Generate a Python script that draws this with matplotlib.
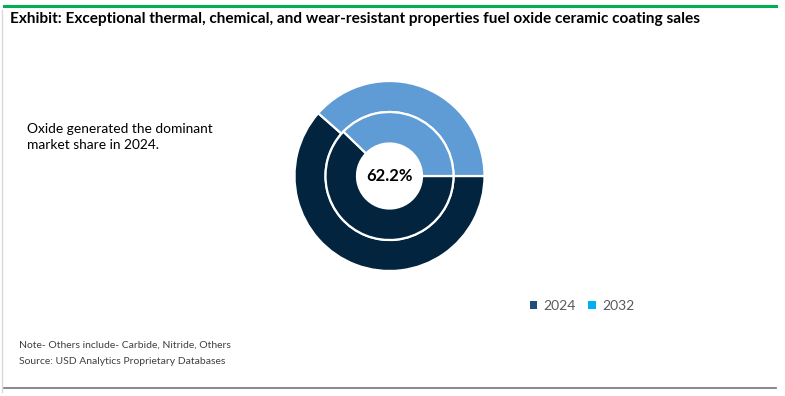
import matplotlib
matplotlib.use("Agg")
import matplotlib.pyplot as plt
from matplotlib.patches import Patch
from matplotlib.lines import Line2D

# Data
segments = ["Oxide", "Others"]
share_2024 = [62.2, 37.8]
share_2032 = [61.5, 38.5]
years = ["2024", "2032"]

title = "Exhibit: Exceptional thermal, chemical, and wear-resistant properties fuel oxide ceramic coating sales"
insight = "Oxide generated the dominant\nmarket share in 2024."
center_label = "62.2%"
notes = ["Note- Others include- Carbide, Nitride, Others",
         "Source: USD Analytics Proprietary Databases"]

seg_colors = ["#03243F", "#5F9BD5"]
legend_colors = ["#1F4E79", "#00B0F0"]

W, H = 785, 396
fig = plt.figure(figsize=(W / 100, H / 100), dpi=100)
fig.patch.set_facecolor("white")

def fx(px):
    return px / W

def fy(py):
    return 1 - py / H

# Frame lines
fig.add_artist(Line2D([fx(4), fx(776)], [fy(6), fy(6)], color="#00B050", lw=2.2))
fig.add_artist(Line2D([fx(4), fx(776)], [fy(388), fy(388)], color="#808080", lw=1.3))
fig.add_artist(Line2D([fx(1.5), fx(1.5)], [fy(10), fy(392)], color="#D9D9D9", lw=1.0))

# Title
fig.text(fx(10), fy(19), title, fontsize=11.1, fontweight="bold", family="Lato",
         color="black", va="center", ha="left")

# Donut
cx, cy, R = 389.5, 176, 95
ax = fig.add_axes([fx(cx - R), fy(cy + R), 2 * R / W, 2 * R / H])
r_mid = 64 / R
r_in = 32.5 / R
wedge = dict(edgecolor="white", linewidth=1.6)
ax.pie(share_2032, radius=1.0, colors=seg_colors, startangle=0, counterclock=False,
       wedgeprops=dict(width=1.0 - r_mid, **wedge))
ax.pie(share_2024, radius=r_mid, colors=seg_colors, startangle=0, counterclock=False,
       wedgeprops=dict(width=r_mid - r_in, **wedge))
ax.set_xlim(-1, 1)
ax.set_ylim(-1, 1)
ax.set_aspect("equal")
ax.axis("off")
ax.text(0, 0, center_label, ha="center", va="center", fontsize=12,
        fontweight="bold", family="Lato", color="black")

# Insight text
fig.text(fx(27), fy(137), insight, fontsize=9.9, family="Lato", color="black",
         va="center", ha="left", linespacing=1.45)

# Legend
handles = [Patch(facecolor=c, edgecolor="none") for c in legend_colors]
fig.legend(handles, years, loc="center", bbox_to_anchor=(fx(582), fy(306)),
           ncol=2, frameon=False, handlelength=0.55, handleheight=0.55,
           handletextpad=0.45, columnspacing=0.9, labelcolor="#595959",
           prop={"family": "Lato", "size": 10})

# Notes
fig.text(fx(19), fy(345.5), notes[0], fontsize=7.5, family="Lato", color="#404040",
         va="center", ha="left")
fig.text(fx(19), fy(361), notes[1], fontsize=7.5, family="Lato", color="#404040",
         va="center", ha="left")

fig.savefig("out.png", dpi=100)
